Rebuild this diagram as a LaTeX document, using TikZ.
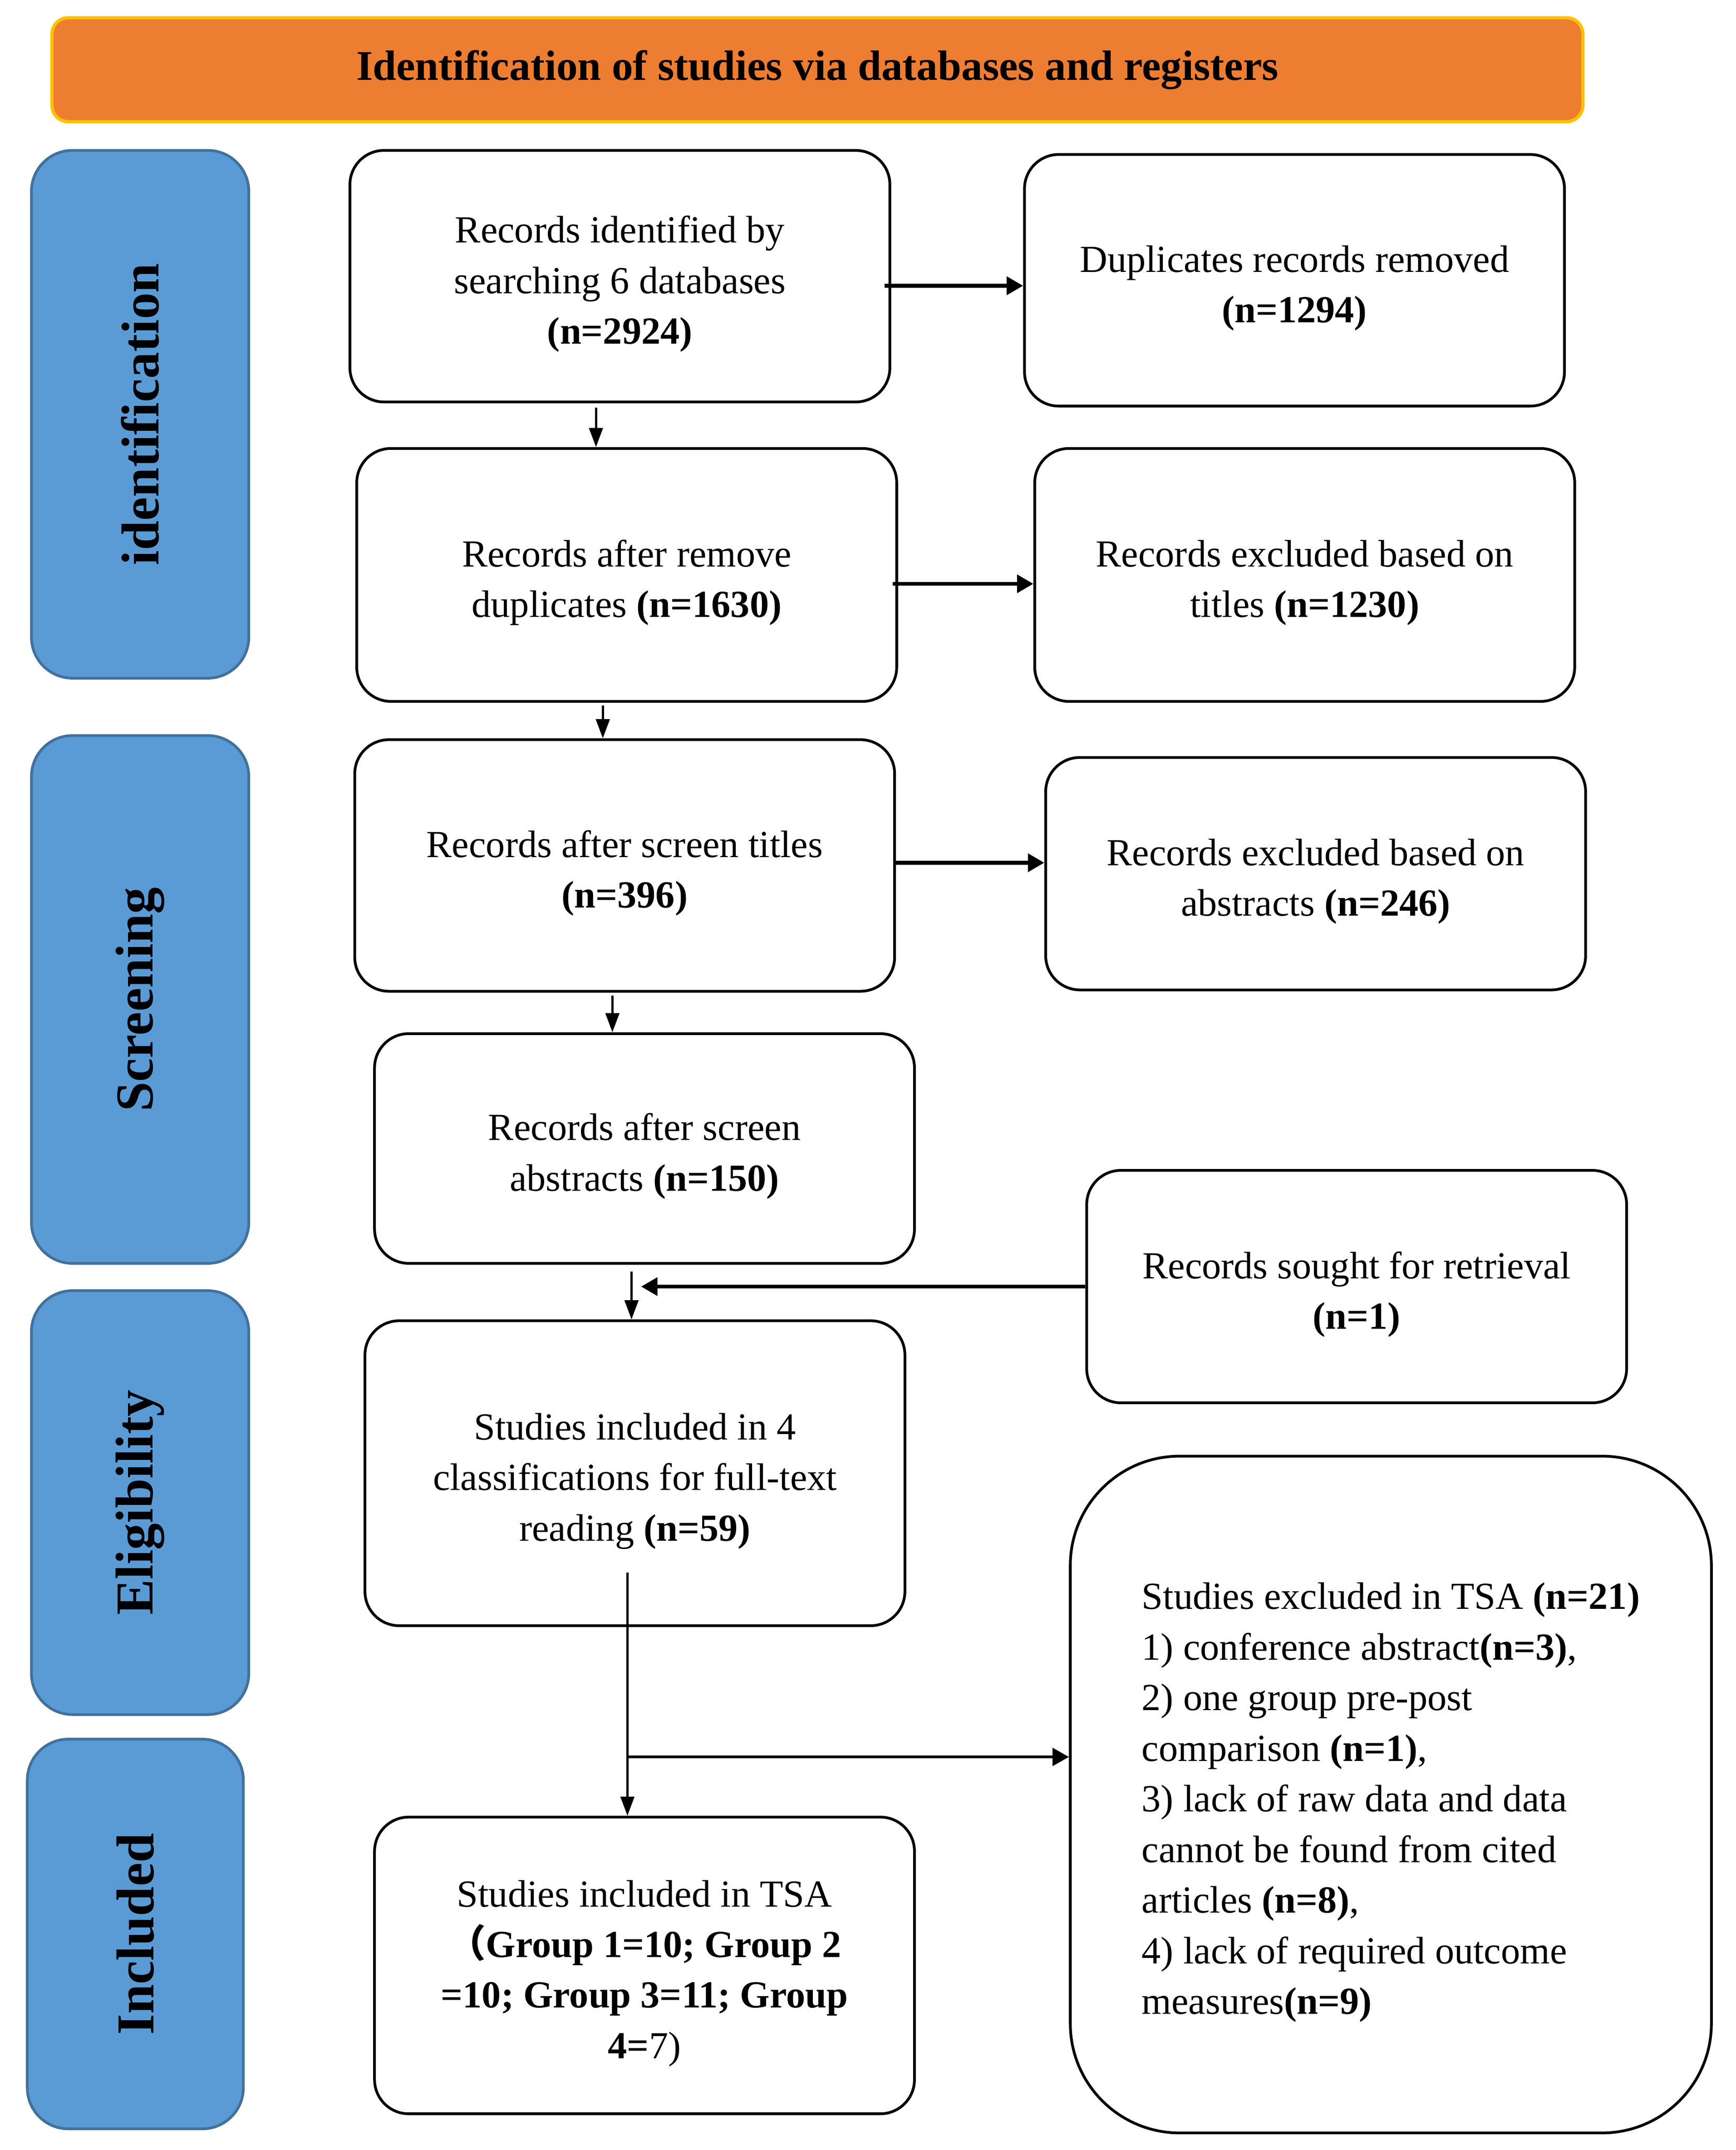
\documentclass[tikz,border=0pt]{standalone}
\usepackage{fontspec}
\setmainfont{Liberation Serif}
\newfontfamily\cjkfont{Noto Sans CJK SC}
\usetikzlibrary{arrows.meta,calc}
\definecolor{hdrfill}{HTML}{ED7D31}
\definecolor{hdrline}{HTML}{FFC000}
\definecolor{barfill}{HTML}{5B9BD5}
\definecolor{barline}{HTML}{41719C}
\newcommand{\topstrut}{\rule{0pt}{15.5pt}}
\begin{document}
\begin{tikzpicture}[x=0.5pt,y=-0.5pt,
  box/.style={draw=black, line width=1pt, rounded corners=12.5pt, fill=white, align=center,
    minimum width=197.5pt, inner sep=0pt, font=\fontsize{14}{18.5}\selectfont},
  bar/.style={draw=barline, line width=1pt, fill=barfill, rounded corners=15pt, rotate=90,
    minimum height=79.5pt, inner sep=0pt, font=\bfseries\fontsize{19.5}{22}\selectfont},
  hdr/.style={draw=hdrline, line width=1.2pt, fill=hdrfill, rounded corners=6pt,
    minimum width=560pt, minimum height=38pt, inner sep=0pt, font=\bfseries\fontsize{15.5}{17}\selectfont},
  harrow/.style={line width=1.4pt, -{Triangle[length=6pt,width=6.5pt]}},
  varrow/.style={line width=0.8pt, -{Triangle[length=7pt,width=5pt]}}
]
\useasboundingbox (0,0) rectangle (1270,1572.5);

\node[hdr] (hdr) at (598,51) {Identification of studies via databases and registers};

\node[bar, minimum width=193pt] (s1) at (102.5,303) {identification};
\node[bar, minimum width=193pt] (s2) at (102.5,731) {Screening};
\node[bar, minimum width=155pt] (s3) at (102.5,1099) {Eligibility};
\node[bar, minimum width=142.5pt, minimum height=79pt] (s4) at (99,1414.5) {Included};

\node[box, minimum height=92pt] (b1) at (453.5,202) {\topstrut Records identified by\\searching 6 databases\\\textbf{(n=2924)}};
\node[box, minimum height=92pt] (d1) at (947,205) {\topstrut Duplicates records removed\\\textbf{(n=1294)}};
\node[box, minimum height=92.5pt] (b2) at (458.5,420.5) {\topstrut Records after remove\\duplicates \textbf{(n=1630)}};
\node[box, minimum height=92.5pt] (d2) at (954.5,420.5) {\topstrut Records excluded based on\\titles \textbf{(n=1230)}};
\node[box, minimum height=92pt] (b3) at (457,633) {\topstrut Records after screen titles\\\textbf{(n=396)}};
\node[box, minimum height=85pt] (d3) at (962.5,639) {\topstrut Records excluded based on\\abstracts \textbf{(n=246)}};
\node[box, minimum height=84pt] (b4) at (471.5,840) {\topstrut Records after screen\\abstracts \textbf{(n=150)}};
\node[box, minimum height=85pt] (r) at (992.5,941) {\topstrut Records sought for retrieval\\\textbf{(n=1)}};
\node[box, minimum height=111.5pt] (b5) at (464.5,1077.5) {\topstrut Studies included in 4\\classifications for full-text\\reading \textbf{(n=59)}};
\node[box, minimum width=234.5pt, minimum height=247.5pt, rounded corners=40pt, align=left] (x) at (1017.5,1312.5)
  {\topstrut Studies excluded in TSA \textbf{(n=21)}\\
   1) conference abstract\textbf{(n=3)},\\
   2) one group pre-post\\
   comparison \textbf{(n=1)},\\
   3) lack of raw data and data\\
   cannot be found from cited\\
   articles \textbf{(n=8)},\\
   4) lack of required outcome\\
   measures\textbf{(n=9)}};
\node[box, minimum height=108.5pt] (b6) at (471.5,1437.5) {\topstrut Studies included in TSA\\
  \textbf{{\cjkfont （}Group 1=10; Group 2}\\
  \textbf{=10; Group 3=11; Group}\\
  \textbf{4=}7)};

% guide coordinates
\coordinate (h1) at (0,209);
\coordinate (h2) at (0,427);
\coordinate (h3) at (0,631);
\coordinate (v1) at (436,0);
\coordinate (v2) at (441,0);
\coordinate (v3) at (448,0);
\coordinate (v4) at (462,0);
\coordinate (v5) at (459,0);
\coordinate (rend) at (469,941);
\coordinate (s5) at (459,1150);
\coordinate (br) at (459,1285);

\draw[harrow] ($(b1.east |- h1)+(-5,0)$) -- (d1.west |- h1);
\draw[harrow] ($(b2.east |- h2)+(-4,0)$) -- (d2.west |- h2);
\draw[harrow] (b3.east |- h3) -- (d3.west |- h3);
\draw[varrow] ($(b1.south -| v1)+(0,3)$) -- (b2.north -| v1);
\draw[varrow] ($(b2.south -| v2)+(0,2)$) -- (b3.north -| v2);
\draw[varrow] ($(b3.south -| v3)+(0,2)$) -- (b4.north -| v3);
\draw[varrow] ($(b4.south -| v4)+(0,5)$) -- (b5.north -| v4);
\draw[harrow] (r.west) -- (rend);
\draw[varrow] (s5) -- (b6.north -| v5);
\draw[harrow, line width=1pt] (br) -- (br -| x.west);
\end{tikzpicture}
\end{document}
